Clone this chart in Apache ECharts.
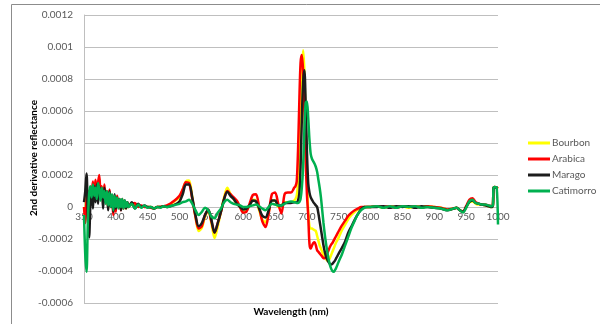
<!DOCTYPE html>
<html>
<head>
<meta charset="utf-8">
<script src="https://cdn.jsdelivr.net/npm/echarts@6/dist/echarts.min.js"></script>
<style>
  html, body { margin: 0; padding: 0; background: #ffffff; }
  #chart { width: 600px; height: 324px; }
</style>
</head>
<body>
<div id="chart"></div>
<script>
// Wavelength grid (nm)
const wavelengths = [
  350,352,354,356,358,360,362,364,366,368,370,372,374,376,378,380,382,384,386,388,390,392,394,396,398,400,402,404,406,408,410,412,414,416,418,420,
  425,430,435,440,445,450,455,460,465,470,475,480,485,490,495,500,505,
  510,515,520,525,530,535,540,545,550,555,560,565,570,575,580,585,590,595,600,605,610,615,620,625,630,635,640,645,650,655,660,665,670,675,680,
  682,684,686,688,690,692,694,696,698,700,702,704,706,708,710,712,714,716,718,720,722,724,726,728,730,732,734,736,738,740,742,744,746,748,750,
  755,760,765,770,775,780,785,790,795,800,
  810,820,830,840,850,860,870,880,890,900,910,920,930,
  935,940,945,950,955,960,965,970,975,980,985,990,
  992,993,995,998,1000
];

// 2nd derivative reflectance per cultivar
const bourbon = [
  0,-0.5e-4,0.8e-4,0.6e-4,0.2e-4,1.0e-4,0.5e-4,1.3e-4,0.8e-4,1.4e-4,0.6e-4,1.5e-4,1.2e-4,0.6e-4,1.2e-4,0.2e-4,1.1e-4,0.5e-4,0.9e-4,-0.1e-4,0.8e-4,0.1e-4,0.6e-4,-0.3e-4,0.7e-4,-0.1e-4,0.5e-4,0,0.4e-4,-0.1e-4,0.4e-4,0,0.3e-4,-0.1e-4,0.2e-4,0,
  0.2e-4,0.1e-4,0.1e-4,0,0.05e-4,0,0,-0.1e-4,0,0,0.05e-4,0.05e-4,0.15e-4,0.3e-4,0.45e-4,0.6e-4,1.1e-4,
  1.6e-4,1.65e-4,0.6e-4,-0.6e-4,-1.5e-4,-1.3e-4,-0.6e-4,-0.2e-4,-1.0e-4,-1.95e-4,-1.2e-4,-0.3e-4,0.6e-4,1.2e-4,0.8e-4,0.5e-4,0.2e-4,0,-0.3e-4,-0.2e-4,0.1e-4,0.45e-4,0.4e-4,-0.2e-4,-0.8e-4,-0.95e-4,-0.3e-4,0.4e-4,0.4e-4,0,0.1e-4,0.3e-4,0.3e-4,0.3e-4,0.4e-4,
  0.5e-4,0.7e-4,1.5e-4,3.0e-4,5.5e-4,8.0e-4,9.8e-4,8.5e-4,5.0e-4,2.0e-4,-0.3e-4,-1.2e-4,-1.35e-4,-1.35e-4,-1.4e-4,-1.45e-4,-1.5e-4,-1.8e-4,-2.1e-4,-2.4e-4,-2.6e-4,-2.8e-4,-3.0e-4,-3.15e-4,-3.25e-4,-3.35e-4,-3.35e-4,-3.2e-4,-3.0e-4,-2.8e-4,-2.6e-4,-2.4e-4,-2.2e-4,-2.05e-4,-1.9e-4,
  -1.45e-4,-1.1e-4,-0.75e-4,-0.5e-4,-0.3e-4,-0.15e-4,-0.05e-4,0,0,0,
  0.05e-4,-0.05e-4,0.05e-4,0,0.05e-4,-0.05e-4,0.05e-4,0,0.05e-4,0,-0.05e-4,-0.15e-4,-0.1e-4,
  -0.05e-4,-0.2e-4,-0.3e-4,0,0.3e-4,0.35e-4,0.2e-4,0.15e-4,0.15e-4,0.1e-4,0.05e-4,0,
  0.1e-4,1.2e-4,1.25e-4,1.2e-4,1.15e-4
];
const arabica = [
  0,-1.0e-4,0.5e-4,1.0e-4,0.5e-4,1.2e-4,0.8e-4,1.6e-4,0.6e-4,1.7e-4,0.9e-4,1.5e-4,2.0e-4,0.8e-4,1.3e-4,0.3e-4,1.4e-4,0.4e-4,1.0e-4,0,1.1e-4,0.2e-4,0.5e-4,-0.5e-4,0.6e-4,-0.3e-4,0.7e-4,0.1e-4,0.4e-4,-0.2e-4,0.5e-4,-0.1e-4,0.3e-4,0,0.3e-4,0.1e-4,
  0.2e-4,0.25e-4,0,0.1e-4,0,0,-0.05e-4,-0.1e-4,0,0,0.05e-4,0.1e-4,0.2e-4,0.35e-4,0.5e-4,0.7e-4,1.1e-4,
  1.55e-4,1.5e-4,0.5e-4,-0.6e-4,-1.35e-4,-1.2e-4,-0.5e-4,-0.2e-4,-0.9e-4,-1.6e-4,-1.0e-4,-0.3e-4,0.5e-4,1.0e-4,0.8e-4,0.6e-4,0.4e-4,0,-0.35e-4,-0.3e-4,0.2e-4,0.75e-4,0.8e-4,0,-0.9e-4,-1.25e-4,-0.4e-4,0.8e-4,0.9e-4,0.2e-4,-0.4e-4,0.8e-4,0.9e-4,0.9e-4,1.2e-4,
  1.3e-4,1.6e-4,3.5e-4,6.5e-4,9.0e-4,9.5e-4,8.5e-4,6.0e-4,3.0e-4,0.8e-4,-0.5e-4,-2.3e-4,-2.6e-4,-2.4e-4,-2.25e-4,-2.2e-4,-2.4e-4,-2.7e-4,-2.8e-4,-2.9e-4,-3.0e-4,-3.1e-4,-3.2e-4,-3.2e-4,-3.1e-4,-2.9e-4,-2.7e-4,-2.5e-4,-2.35e-4,-2.25e-4,-2.1e-4,-1.95e-4,-1.8e-4,-1.65e-4,-1.5e-4,
  -1.15e-4,-0.85e-4,-0.55e-4,-0.35e-4,-0.2e-4,-0.1e-4,0,0,0,0,
  0.05e-4,0,0.05e-4,-0.05e-4,0.05e-4,0,0.05e-4,-0.05e-4,0.05e-4,0,-0.05e-4,-0.15e-4,-0.1e-4,
  -0.05e-4,-0.2e-4,-0.3e-4,0.05e-4,0.45e-4,0.55e-4,0.3e-4,0.2e-4,0.15e-4,0.15e-4,0.1e-4,0.05e-4,
  0.1e-4,1.2e-4,1.25e-4,1.2e-4,1.15e-4
];
const marago = [
  0.3e-4,1.0e-4,2.1e-4,-0.5e-4,-1.9e-4,0.2e-4,1.2e-4,-0.1e-4,1.3e-4,0.3e-4,1.4e-4,0.2e-4,1.3e-4,0.5e-4,1.1e-4,-0.1e-4,1.2e-4,0.3e-4,0.8e-4,-0.2e-4,1.0e-4,0,0.7e-4,-0.3e-4,0.8e-4,-0.1e-4,0.6e-4,0,0.5e-4,-0.2e-4,0.4e-4,0,0.4e-4,-0.1e-4,0.3e-4,0,
  0.3e-4,-0.1e-4,0.2e-4,0,0.1e-4,0,0,-0.1e-4,0,0,0.05e-4,0,0.05e-4,0.1e-4,0.2e-4,0.35e-4,0.8e-4,
  1.4e-4,1.4e-4,0.6e-4,-0.5e-4,-1.2e-4,-1.0e-4,-0.5e-4,-0.15e-4,-0.8e-4,-1.6e-4,-1.0e-4,-0.3e-4,0.5e-4,0.95e-4,0.7e-4,0.5e-4,0.2e-4,0,-0.15e-4,-0.1e-4,0.1e-4,0.4e-4,0.35e-4,-0.1e-4,-0.55e-4,-0.65e-4,-0.2e-4,0.4e-4,0.4e-4,0.1e-4,0.1e-4,0.25e-4,0.25e-4,0.25e-4,0.3e-4,
  0.3e-4,0.3e-4,0.4e-4,0.8e-4,2.5e-4,5.5e-4,7.8e-4,8.55e-4,6.5e-4,3.5e-4,1.5e-4,0.9e-4,0.6e-4,0.45e-4,0.3e-4,0.2e-4,0.1e-4,0,-0.4e-4,-0.9e-4,-1.4e-4,-1.9e-4,-2.4e-4,-2.8e-4,-3.1e-4,-3.3e-4,-3.45e-4,-3.55e-4,-3.6e-4,-3.55e-4,-3.45e-4,-3.35e-4,-3.2e-4,-3.05e-4,-2.9e-4,
  -2.55e-4,-2.15e-4,-1.6e-4,-1.2e-4,-0.8e-4,-0.45e-4,-0.15e-4,0,0,0,
  0,0.05e-4,-0.05e-4,0.05e-4,0,0.05e-4,-0.05e-4,0.05e-4,0,-0.05e-4,-0.1e-4,-0.2e-4,-0.1e-4,
  -0.05e-4,-0.2e-4,-0.3e-4,0,0.3e-4,0.4e-4,0.25e-4,0.2e-4,0.15e-4,0.1e-4,0.05e-4,0,
  0.1e-4,1.2e-4,1.25e-4,1.2e-4,1.2e-4
];
const catimorro = [
  -0.5e-4,-3.0e-4,-4.05e-4,-1.0e-4,0.8e-4,1.3e-4,0.6e-4,1.4e-4,0.7e-4,1.2e-4,0.5e-4,1.5e-4,1.1e-4,0.4e-4,1.2e-4,0.6e-4,1.0e-4,0.2e-4,1.0e-4,0.1e-4,0.9e-4,0,0.8e-4,-0.2e-4,0.7e-4,0,0.6e-4,-0.1e-4,0.5e-4,0,0.5e-4,-0.1e-4,0.4e-4,0,0.3e-4,0,
  0.2e-4,-0.1e-4,0.15e-4,-0.05e-4,0.1e-4,-0.05e-4,0,-0.1e-4,0,-0.05e-4,0.05e-4,0,0.05e-4,0.1e-4,0.15e-4,0.2e-4,0.3e-4,
  0.35e-4,0.45e-4,0.2e-4,-0.2e-4,-0.5e-4,-0.3e-4,-0.05e-4,-0.2e-4,-0.6e-4,-0.7e-4,-0.35e-4,-0.1e-4,0.3e-4,0.45e-4,0.3e-4,0.2e-4,0.15e-4,0.1e-4,0,0,0.05e-4,0.1e-4,0.15e-4,0.05e-4,-0.1e-4,-0.2e-4,0,0.2e-4,0.15e-4,0.1e-4,0.1e-4,0.2e-4,0.3e-4,0.35e-4,0.3e-4,
  0.3e-4,0.25e-4,0.25e-4,0.3e-4,0.5e-4,1.2e-4,2.5e-4,4.8e-4,6.5e-4,6.6e-4,5.6e-4,4.2e-4,3.3e-4,3.0e-4,2.85e-4,2.7e-4,2.5e-4,2.2e-4,1.7e-4,1.2e-4,0.6e-4,-0.2e-4,-1.0e-4,-1.7e-4,-2.3e-4,-2.8e-4,-3.25e-4,-3.6e-4,-3.85e-4,-4.0e-4,-4.05e-4,-3.95e-4,-3.8e-4,-3.6e-4,-3.4e-4,
  -2.95e-4,-2.4e-4,-1.85e-4,-1.3e-4,-0.85e-4,-0.45e-4,-0.2e-4,-0.05e-4,0,0,
  0.05e-4,-0.05e-4,0.05e-4,-0.05e-4,0.05e-4,0,0.05e-4,-0.05e-4,0,-0.05e-4,-0.1e-4,-0.2e-4,-0.1e-4,
  -0.05e-4,-0.2e-4,-0.35e-4,-0.05e-4,0.35e-4,0.45e-4,0.25e-4,0.2e-4,0.15e-4,0.15e-4,0.1e-4,0.05e-4,
  0.1e-4,1.2e-4,1.25e-4,1.2e-4,-1.1e-4
];

const seriesNames = ['Bourbon', 'Arabica', 'Marago', 'Catimorro'];
const seriesColors = ['#ffff00', '#ff0000', '#1c1c1c', '#00b050'];
const seriesValues = [bourbon, arabica, marago, catimorro];

const FONT = 'Lato, "Liberation Sans", sans-serif';
const GRID_COLOR = '#bfbfbf';
const LABEL_COLOR = '#595959';

const chart = echarts.init(document.getElementById('chart'), null, { renderer: 'canvas' });

chart.setOption({
  animation: false,
  backgroundColor: '#ffffff',
  grid: { left: 84, right: 102, top: 15, bottom: 21, containLabel: false },
  xAxis: {
    type: 'value',
    position: 'bottom',
    min: 350,
    max: 1000,
    interval: 50,
    axisLine: { show: true, onZero: false, lineStyle: { color: GRID_COLOR, width: 1 } },
    axisTick: { show: false },
    splitLine: { show: false },
    axisLabel: {
      color: LABEL_COLOR, fontFamily: FONT, fontSize: 10, margin: 5,
      formatter: v => String(v)
    }
  },
  yAxis: {
    type: 'value',
    min: -0.0006,
    max: 0.0012,
    interval: 0.0002,
    axisLine: { show: true, onZero: false, lineStyle: { color: GRID_COLOR, width: 1 } },
    axisTick: { show: false },
    splitLine: { show: true, lineStyle: { color: GRID_COLOR, width: 1 } },
    axisLabel: {
      color: LABEL_COLOR, fontFamily: FONT, fontSize: 10, margin: 11,
      formatter: v => String(+v.toPrecision(4))
    }
  },
  legend: {
    orient: 'vertical',
    left: 523,
    top: 133,
    itemWidth: 22,
    itemHeight: 3,
    itemGap: 6,
    icon: 'rect',
    textStyle: { color: LABEL_COLOR, fontFamily: FONT, fontSize: 10, padding: [0, 0, 0, -3] },
    data: seriesNames
  },
  graphic: [
    {
      type: 'rect',
      shape: { x: 11.5, y: 4.5, width: 620, height: 340 },
      style: { fill: 'none', stroke: '#8c8c8c', lineWidth: 1 },
      silent: true
    },
    {
      type: 'text',
      x: 34, y: 158,
      rotation: Math.PI / 2,
      style: {
        text: '2nd derivative reflectance',
        fill: '#000000',
        font: 'bold 10px ' + FONT,
        align: 'center',
        verticalAlign: 'middle'
      }
    },
    {
      type: 'text',
      x: 291, y: 312,
      style: {
        text: 'Wavelength (nm)',
        fill: '#000000',
        font: 'bold 10px ' + FONT,
        align: 'center',
        verticalAlign: 'middle'
      }
    }
  ],
  series: seriesNames.map((name, i) => ({
    name: name,
    type: 'line',
    data: wavelengths.map((w, j) => [w, seriesValues[i][j]]),
    showSymbol: false,
    smooth: 0.3,
    color: seriesColors[i],
    lineStyle: { color: seriesColors[i], width: 2.5 },
    z: 2 + i
  }))
});

// Lift the wavelength axis so it crosses the value axis at zero
const zeroPx = chart.convertToPixel({ yAxisIndex: 0 }, 0);
const bottomPx = chart.convertToPixel({ yAxisIndex: 0 }, -0.0006);
chart.setOption({ xAxis: { offset: -(bottomPx - zeroPx) } });
</script>
</body>
</html>
